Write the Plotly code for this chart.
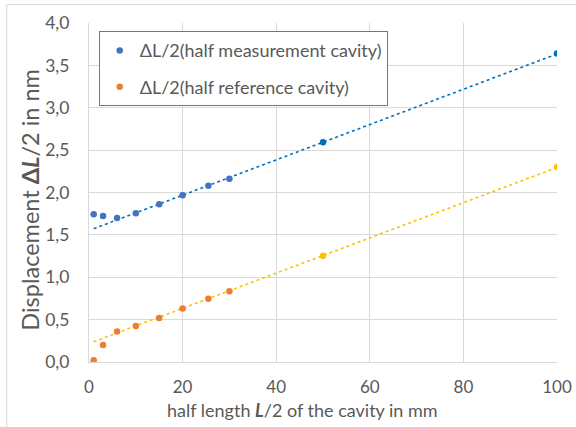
import numpy as np
import plotly.graph_objects as go

# Data
x_mm = [1, 3, 6, 10, 15, 20, 25.5, 30, 50, 100]
meas = [1.742, 1.722, 1.700, 1.754, 1.860, 1.967, 2.080, 2.163, 2.593, 3.640]
ref = [0.020, 0.200, 0.360, 0.426, 0.520, 0.630, 0.745, 0.836, 1.253, 2.300]
meas_colors = ["#4472C4"] * 8 + ["#0070C0"] * 2
ref_colors = ["#ED7D31"] * 8 + ["#FFC000"] * 2
x_ticks = [0, 20, 40, 60, 80, 100]
y_ticks = [0, 0.5, 1.0, 1.5, 2.0, 2.5, 3.0, 3.5, 4.0]
fit_min_x = 6  # trendlines fitted on points from x >= 6

xa = np.array(x_mm)
mask = xa >= fit_min_x
xl = np.array([min(x_mm), max(x_mm)])

fig = go.Figure()
for ys, col in [(meas, "#0070C0"), (ref, "#FFC000")]:
    k, d = np.polyfit(xa[mask], np.array(ys)[mask], 1)
    fig.add_trace(go.Scatter(x=xl, y=k * xl + d, mode="lines", showlegend=False,
                             line=dict(color=col, width=1.6, dash="dot"), hoverinfo="skip"))

fig.add_trace(go.Scatter(x=x_mm, y=meas, mode="markers", name="ΔL/2(half measurement cavity)",
                         legendgroup="a",
                         marker=dict(color=meas_colors, size=6.5, line=dict(width=0))))
fig.add_trace(go.Scatter(x=x_mm, y=ref, mode="markers", name="ΔL/2(half reference cavity)",
                         legendgroup="b",
                         marker=dict(color=ref_colors, size=6.5, line=dict(width=0))))

txt = "#595959"
grid = "#D9D9D9"
W, H = 576, 427
L, R, T, B = 89.3, 18.7, 23.3, 65.3
pw, ph = W - L - R, H - T - B

def px(xp):
    return (xp - L) / pw

def py(yp):
    return (H - B - yp) / ph

fig.update_layout(
    width=W, height=H,
    margin=dict(l=L, r=R, t=T, b=B, autoexpand=False),
    paper_bgcolor="white", plot_bgcolor="white",
    separators=",.",
    font=dict(family="Lato", size=18, color=txt),
    xaxis=dict(range=[0, 100], tickvals=x_ticks, showgrid=True, gridcolor=grid, gridwidth=1,
               zeroline=False, showline=True, linecolor=grid, linewidth=1, ticks="",
               ticklabelstandoff=10, tickfont=dict(size=17, color=txt)),
    yaxis=dict(range=[0, 4], tickvals=y_ticks, tickformat=".1f", showgrid=True, gridcolor=grid,
               gridwidth=1, zeroline=False, showline=True, linecolor=grid, linewidth=1, ticks="",
               ticklabelstandoff=15, tickfont=dict(size=17.5, color=txt)),
    legend=dict(x=px(99), y=py(31.5), xanchor="left", yanchor="top",
                bordercolor="#767676", borderwidth=1, bgcolor="white",
                font=dict(size=18, color=txt), tracegroupgap=10, itemwidth=30),
    annotations=[
        dict(text="half length <b><i>L</i></b>/2 of the cavity in mm", xref="paper", yref="paper",
             x=px(303), y=py(410), xanchor="center", yanchor="middle", showarrow=False,
             font=dict(size=18, color=txt)),
        dict(text="Displacement <b>Δ<i>L</i></b>/2 in nm", xref="paper", yref="paper",
             x=px(30), y=py(200), xanchor="center", yanchor="middle", showarrow=False,
             textangle=-90, font=dict(size=23.5, color=txt)),
    ],
    shapes=[dict(type="rect", xref="paper", yref="paper", x0=px(7), y0=py(440), x1=px(600), y1=py(5),
                 line=dict(color=grid, width=1), fillcolor="rgba(0,0,0,0)", layer="below")],
)

fig.write_html("out.html")
